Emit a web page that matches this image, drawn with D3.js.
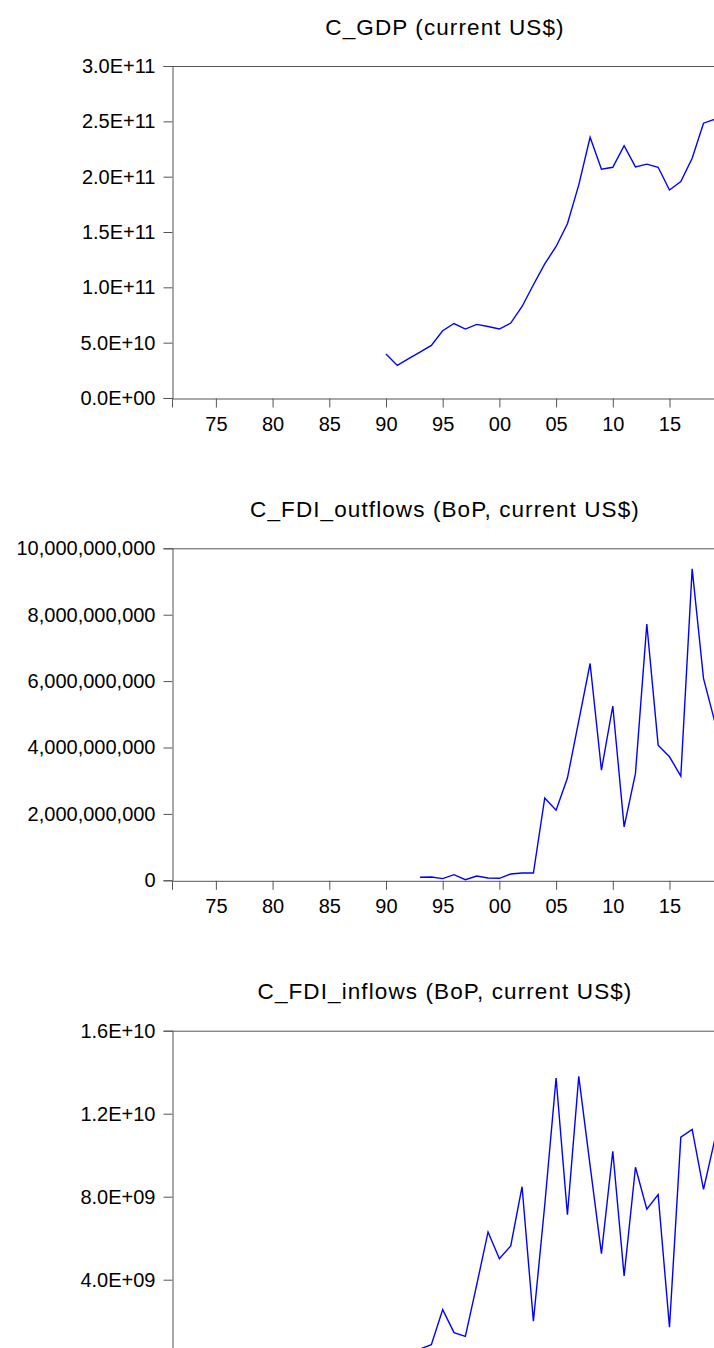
<!DOCTYPE html>
<html>
<head>
<meta charset="utf-8">
<script src="https://cdn.jsdelivr.net/npm/d3@7"></script>
<style>
  html, body { margin: 0; padding: 0; background: #fff; overflow: hidden; }
  svg { display: block; }
  text { font-family: "Liberation Sans", Arial, sans-serif; fill: #000; }
</style>
</head>
<body>
<svg id="chart" width="714" height="1348"></svg>
<script>
// Annual series (current US$)
const gdpYears = d3.range(1990, 2020);
const gdpValues = [39.7e9, 29.4e9, 35.5e9, 41.5e9, 47.5e9, 60.8e9, 67.3e9, 62.3e9, 66.5e9, 64.6e9,
                   62.3e9, 67.7e9, 82.7e9, 102.3e9, 121.2e9, 136.9e9, 157.4e9, 192.6e9, 235.6e9, 206.7e9,
                   208.5e9, 228.0e9, 208.8e9, 211.3e9, 208.5e9, 188.0e9, 195.5e9, 216.7e9, 248.3e9, 252.0e9];

const outflowYears = d3.range(1993, 2020);
const outflowValues = [0.09e9, 0.10e9, 0.05e9, 0.17e9, 0.02e9, 0.13e9, 0.07e9, 0.06e9, 0.19e9, 0.22e9,
                       0.22e9, 2.48e9, 2.11e9, 3.08e9, 4.80e9, 6.53e9, 3.32e9, 5.25e9, 1.61e9, 3.22e9,
                       7.72e9, 4.07e9, 3.72e9, 3.14e9, 9.38e9, 6.08e9, 4.77e9];

const inflowYears = d3.range(1992, 2020);
const inflowValues = [0.25e9, 0.66e9, 0.87e9, 2.56e9, 1.45e9, 1.27e9, 3.75e9, 6.30e9, 5.01e9, 5.63e9,
                      8.48e9, 2.00e9, 7.60e9, 13.72e9, 7.13e9, 13.80e9, 9.50e9, 5.26e9, 10.19e9, 4.18e9,
                      9.42e9, 7.40e9, 8.10e9, 1.71e9, 10.87e9, 11.24e9, 8.35e9, 10.76e9];

// Axis ticks
const xTickYears = [1975, 1980, 1985, 1990, 1995, 2000, 2005, 2010, 2015];
const gdpTicks = [0, 5e10, 1e11, 1.5e11, 2e11, 2.5e11, 3e11];
const outflowTicks = [0, 2e9, 4e9, 6e9, 8e9, 1e10];
const inflowTicks = [4e9, 8e9, 1.2e10, 1.6e10];

const titles = ["C_GDP (current US$)",
                "C_FDI_outflows (BoP, current US$)",
                "C_FDI_inflows (BoP, current US$)"];

// Scientific label like 3.0E+11 / 4.0E+09 / 0.0E+00
function sciFormat(v) {
  if (v === 0) return "0.0E+00";
  const exp = Math.floor(Math.log10(Math.abs(v)));
  const mant = v / Math.pow(10, exp);
  const sign = exp < 0 ? "-" : "+";
  return mant.toFixed(1) + "E" + sign + String(Math.abs(exp)).padStart(2, "0");
}
const commaFormat = d3.format(",");

const panels = [
  { title: titles[0], years: gdpYears, values: gdpValues, ticks: gdpTicks, max: 3e11, fmt: sciFormat, xLabels: true },
  { title: titles[1], years: outflowYears, values: outflowValues, ticks: outflowTicks, max: 1e10, fmt: commaFormat, xLabels: true },
  // the last panel's date axis sits below the page edge
  { title: titles[2], years: inflowYears, values: inflowValues, ticks: inflowTicks, max: 1.6e10, fmt: sciFormat, xLabels: false }
];

const svg = d3.select("#chart");
const plotLeft = 172, plotRight = 718, plotHeight = 332;
const panelTops = [66, 548.3, 1030.7];
const axisColor = "#555";

const x = d3.scaleLinear()
  .domain([1971.13, 1971.13 + (plotRight - plotLeft) / 11.34])
  .range([plotLeft, plotRight]);

panels.forEach((p, i) => {
  const top = panelTops[i];
  const bottom = top + plotHeight;
  const y = d3.scaleLinear().domain([0, p.max]).range([bottom, top]);
  const g = svg.append("g");

  // title
  g.append("text")
    .attr("x", (plotLeft + plotRight) / 2)
    .attr("y", top - 31.5)
    .attr("text-anchor", "middle")
    .attr("font-size", 22.5)
    .attr("letter-spacing", 1.1)
    .text(p.title);

  // frame: top border
  g.append("line")
    .attr("x1", plotLeft).attr("x2", plotRight)
    .attr("y1", top + 0.5).attr("y2", top + 0.5)
    .attr("stroke", axisColor);

  // left axis
  const yAxis = g.append("g")
    .attr("transform", `translate(${plotLeft + 0.5},0)`)
    .call(d3.axisLeft(y).tickValues(p.ticks).tickFormat(p.fmt).tickSize(9).tickPadding(8));
  yAxis.select(".domain").attr("stroke", axisColor);
  yAxis.selectAll(".tick line").attr("stroke", axisColor);
  yAxis.selectAll(".tick text").attr("font-size", 20).attr("fill", "#000")
    .style("font-family", "'Liberation Sans', Arial, sans-serif");

  // bottom axis
  if (p.xLabels) {
    const xAxis = g.append("g")
      .attr("transform", `translate(0,${bottom + 0.5})`)
      .call(d3.axisBottom(x).tickValues(xTickYears)
        .tickFormat(d => String(d % 100).padStart(2, "0"))
        .tickSize(9).tickPadding(9));
    xAxis.select(".domain").attr("stroke", axisColor);
    xAxis.selectAll(".tick line").attr("stroke", axisColor);
    xAxis.selectAll(".tick text").attr("font-size", 20).attr("fill", "#000")
      .style("font-family", "'Liberation Sans', Arial, sans-serif");
  }

  // series line
  const pts = p.years.map((yr, k) => [yr, p.values[k]]);
  g.append("path")
    .datum(pts)
    .attr("fill", "none")
    .attr("stroke", "#0000ff")
    .attr("stroke-width", 1.4)
    .attr("d", d3.line().x(d => x(d[0])).y(d => y(d[1])));
});
</script>
</body>
</html>
